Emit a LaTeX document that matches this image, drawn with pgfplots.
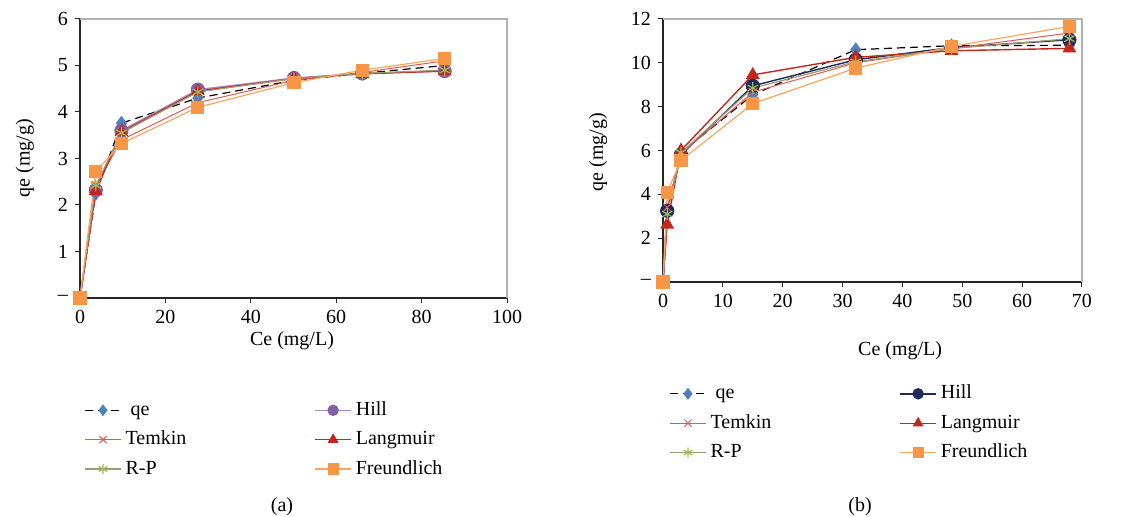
\documentclass[border=0pt]{standalone}
\usepackage{pgfplots}
\pgfplotsset{compat=1.18}
\usepackage{fontspec}
\setmainfont{Liberation Serif}
\definecolor{qeblue}{RGB}{79,129,189}
\definecolor{hillmark}{RGB}{128,100,162}
\definecolor{hillline}{RGB}{167,139,201}
\definecolor{hillnavy}{RGB}{31,42,92}
\definecolor{temred}{RGB}{222,90,85}
\definecolor{langred}{RGB}{192,40,30}
\definecolor{rpline}{RGB}{160,154,110}
\definecolor{rpmark}{RGB}{155,187,89}
\definecolor{frline}{RGB}{249,165,95}
\definecolor{frmark}{RGB}{247,150,70}
\pgfplotsset{
  common/.style={
    scale only axis,
    font=\fontsize{10}{12}\selectfont,
    /pgf/number format/assume math mode=true,
    axis x line*=bottom, axis y line*=left,
    axis line style={-, draw=black!85, line width=0.6pt},
    tick align=outside, major tick length=2.5pt,
    tick style={black!85, line width=0.5pt},
    clip=false,
    legend columns=2,
    legend cell align=left,
    legend image code/.code={\draw[mark repeat=2,mark phase=2,##1,mark size=2.5pt] plot coordinates {(0pt,0pt) (9pt,0pt) (18pt,0pt)};},
    legend style={draw=none, fill=none, inner sep=0pt, anchor=north west,
      font=\fontsize{10}{12}\selectfont,
      row sep=2.7pt,
      nodes={inner sep=1.5pt, text height=7pt, text depth=2pt},
      /tikz/every odd column/.append style={column sep=0.5pt},
      /tikz/every even column/.append style={column sep=62.5pt}},
  },
  qe/.style={black, dash pattern=on 4pt off 2.5pt, line width=0.6pt, mark=diamond*, mark size=3.2pt, mark options={solid, fill=qeblue, draw=qeblue}},
  temkin/.style={temred, line width=0.5pt, mark=x, mark size=3pt, mark options={solid, temred}},
  lang/.style={langred, line width=0.7pt, mark=triangle*, mark size=3.3pt, mark options={solid, fill=langred, draw=langred}},
  rp/.style={rpline, line width=0.6pt, mark=asterisk, mark size=3pt, mark options={solid, rpmark}},
  freund/.style={frline, line width=0.6pt, mark=square*, mark size=3pt, mark options={solid, fill=frmark, draw=frmark}},
}
\begin{document}
\begin{tikzpicture}[x=1pt,y=1pt]
\useasboundingbox (0,0) rectangle (569.5,258.5);
% ---------------- (a)
\begin{axis}[common,
  at={(40pt,109.5pt)}, anchor=south west,
  width=213.5pt, height=139.5pt,
  xmin=0, xmax=100, ymin=0, ymax=6,
  xtick={0,20,...,100},
  ytick={0,1,...,6}, yticklabels={--,1,2,3,4,5,6},
  xlabel={Ce (mg/L)}, ylabel={qe (mg/g)},
  xlabel style={at={(axis description cs:0.4965,-0.154)}, anchor=center},
  ylabel style={at={(axis description cs:-0.129,0.502)}, anchor=center, rotate=0},
  legend style={at={(axis description cs:0.0094,-0.358)}},
]
\addplot[qe] coordinates {(0,0) (3.7,2.25) (9.7,3.76) (27.6,4.3) (50.1,4.68) (66.1,4.83) (85.4,5.0)};
\addlegendentry{\ qe}
\addplot[hillline, line width=0.7pt, mark=*, mark size=3.2pt, mark options={solid, fill=hillmark, draw=hillmark}] coordinates {(0,0) (3.7,2.32) (9.7,3.6) (27.6,4.48) (50.1,4.73) (66.1,4.83) (85.4,4.88)};
\addlegendentry{Hill}
\addplot[temkin] coordinates {(0,0) (3.7,2.42) (9.7,3.4) (27.6,4.2) (50.1,4.68) (66.1,4.85) (85.4,5.1)};
\addlegendentry{Temkin}
\addplot[lang] coordinates {(0,0) (3.7,2.3) (9.7,3.57) (27.6,4.45) (50.1,4.72) (66.1,4.82) (85.4,4.88)};
\addlegendentry{Langmuir}
\addplot[rp] coordinates {(0,0) (3.7,2.42) (9.7,3.55) (27.6,4.43) (50.1,4.72) (66.1,4.83) (85.4,4.9)};
\addlegendentry{R-P}
\addplot[freund] coordinates {(0,0) (3.7,2.72) (9.7,3.32) (27.6,4.1) (50.1,4.63) (66.1,4.9) (85.4,5.15)};
\addlegendentry{Freundlich}
\draw[gray!60, line width=0.6pt] (rel axis cs:0,1) -- (rel axis cs:1,1) -- (rel axis cs:1,0);
\end{axis}
% ---------------- (b)
\begin{axis}[common,
  at={(331.5pt,117.5pt)}, anchor=south west,
  width=209.5pt, height=131.5pt,
  xmin=0, xmax=70, ymin=0, ymax=12,
  xtick={0,10,...,70},
  ytick={0,2,...,12}, yticklabels={--,2,4,6,8,10,12},
  xlabel={Ce (mg/L)}, ylabel={qe (mg/g)},
  xlabel style={at={(axis description cs:0.566,-0.262)}, anchor=center},
  ylabel style={at={(axis description cs:-0.155,0.494)}, anchor=center, rotate=0},
  legend style={at={(axis description cs:0.0143,-0.378)}},
]
\addplot[qe] coordinates {(0,0) (0.7,3.25) (3.0,5.9) (15.0,8.54) (32.2,10.6) (48.2,10.78) (67.9,10.8)};
\addlegendentry{\ qe}
\addplot[hillnavy, line width=0.7pt, mark=*, mark size=3.2pt, mark options={solid, fill=hillnavy, draw=hillnavy}] coordinates {(0,0) (0.7,3.25) (3.0,5.8) (15.0,8.95) (32.2,10.14) (48.2,10.7) (67.9,11.05)};
\addlegendentry{Hill}
\addplot[temkin] coordinates {(0,0) (0.7,3.4) (3.0,5.85) (15.0,8.66) (32.2,10.0) (48.2,10.65) (67.9,11.36)};
\addlegendentry{Temkin}
\addplot[lang] coordinates {(0,0) (0.7,2.62) (3.0,6.0) (15.0,9.45) (32.2,10.25) (48.2,10.55) (67.9,10.66)};
\addlegendentry{Langmuir}
\addplot[rp] coordinates {(0,0) (0.7,3.1) (3.0,5.9) (15.0,8.85) (32.2,10.05) (48.2,10.65) (67.9,11.1)};
\addlegendentry{R-P}
\addplot[freund] coordinates {(0,0) (0.7,4.1) (3.0,5.55) (15.0,8.14) (32.2,9.76) (48.2,10.75) (67.9,11.66)};
\addlegendentry{Freundlich}
\draw[gray!60, line width=0.6pt] (rel axis cs:0,1) -- (rel axis cs:1,1) -- (rel axis cs:1,0);
\end{axis}
\node[font=\fontsize{10}{12}\selectfont] at (141,5) {(a)};
\node[font=\fontsize{10}{12}\selectfont] at (430,5) {(b)};
\end{tikzpicture}
\end{document}
